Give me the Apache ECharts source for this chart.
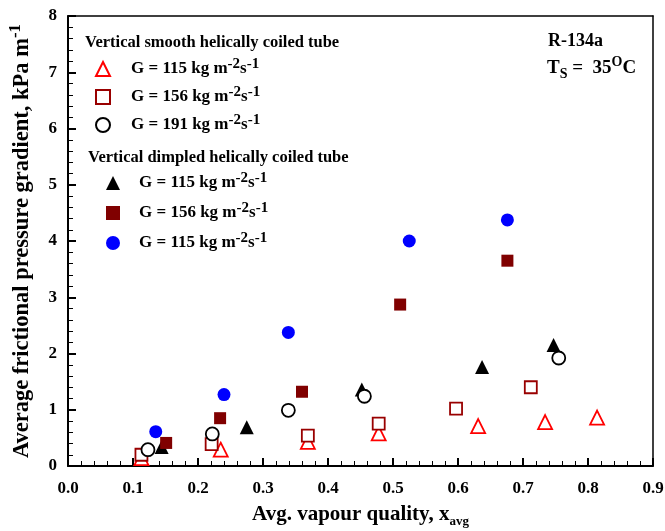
<!DOCTYPE html>
<html>
<head>
<meta charset="utf-8">
<script src="https://cdn.jsdelivr.net/npm/echarts@6/dist/echarts.min.js"></script>
<style>
html,body{margin:0;padding:0;background:#fff;}
#chart{width:665px;height:531px;}
</style>
</head>
<body>
<div id="chart"></div>
<script>
// Data (x = avg vapour quality, y = kPa/m)
const smooth115 = [[0.113,0.14],[0.235,0.29],[0.369,0.43],[0.478,0.58],[0.631,0.71],[0.734,0.78],[0.814,0.86]];
const smooth156 = [[0.113,0.20],[0.221,0.39],[0.369,0.54],[0.478,0.755],[0.597,1.02],[0.712,1.40]];
const smooth191 = [[0.123,0.29],[0.222,0.57],[0.339,0.99],[0.456,1.24],[0.755,1.92]];
const dimpled115 = [[0.144,0.34],[0.275,0.69],[0.452,1.36],[0.637,1.76],[0.747,2.15]];
const dimpled156 = [[0.151,0.41],[0.234,0.85],[0.360,1.32],[0.511,2.87],[0.676,3.65]];
const dimpled115b = [[0.135,0.61],[0.240,1.27],[0.339,2.375],[0.525,4.0],[0.676,4.375]];

const names = {
  s115: 'G = 115 kg m{sup|-2}s{sup|-1}',
  s156: 'G = 156 kg m{sup|-2}s{sup|-1}',
  s191: 'G = 191 kg m{sup|-2}s{sup|-1}',
  d115: 'G = 115 kg m{sup|-2}s{sup|-1} ',
  d156: 'G = 156 kg m{sup|-2}s{sup|-1} ',
  d115b: 'G = 115 kg m{sup|-2}s{sup|-1}  '
};

const FONT = '"Liberation Serif", "Times New Roman", serif';
const legendRich = {
  sup: {fontFamily: FONT, fontWeight: 'bold', fontSize: 15, verticalAlign: 'top', lineHeight: 15, color: '#000'}
};

const chart = echarts.init(document.getElementById('chart'), null, {renderer: 'canvas'});

function sc(name, data, symbol, size, color, border, z) {
  return {
    name: name, type: 'scatter', data: data, symbol: symbol, symbolSize: size, z: z,
    itemStyle: border ? {color: '#fff', borderColor: color, borderWidth: 1.8, opacity: 1}
                      : {color: color, borderWidth: 0, opacity: 1},
    emphasis: {disabled: true}
  };
}

function legendText(pad) {
  return {fontFamily: FONT, fontWeight: 'bold', fontSize: 17, color: '#000', lineHeight: 24,
    padding: [0, 0, 0, pad], rich: legendRich};
}

chart.setOption({
  animation: false,
  backgroundColor: '#fff',
  grid: {left: 68, top: 16, width: 585, height: 450, show: false, containLabel: false, outerBoundsMode: 'none'},
  xAxis: [{
    type: 'value', min: 0, max: 0.9, interval: 0.1, position: 'bottom',
    axisLine: {show: true, onZero: false, lineStyle: {color: '#000', width: 2}},
    axisTick: {show: true, inside: true, length: 8, lineStyle: {color: '#000', width: 2}},
    minorTick: {show: true, splitNumber: 5, length: 5, lineStyle: {color: '#000', width: 1}},
    splitLine: {show: false},
    axisLabel: {margin: 14, fontFamily: FONT, fontWeight: 'bold', fontSize: 17, color: '#000',
      formatter: function (v) { return v.toFixed(1); }},
    name: 'Avg. vapour quality, x{sub|avg}', nameLocation: 'middle', nameGap: 36,
    nameTextStyle: {fontFamily: FONT, fontWeight: 'bold', fontSize: 21, color: '#000', lineHeight: 26,
      rich: {sub: {fontFamily: FONT, fontWeight: 'bold', fontSize: 13, color: '#000', verticalAlign: 'bottom', lineHeight: 13}}}
  }, {
    type: 'value', min: 0, max: 0.9, position: 'top',
    axisLine: {show: true, onZero: false, lineStyle: {color: '#000', width: 1.5}},
    axisTick: {show: false}, axisLabel: {show: false}, splitLine: {show: false}
  }],
  yAxis: [{
    type: 'value', min: 0, max: 8, interval: 1, position: 'left',
    axisLine: {show: true, onZero: false, lineStyle: {color: '#000', width: 2}},
    axisTick: {show: true, inside: true, length: 8, lineStyle: {color: '#000', width: 2}},
    minorTick: {show: true, splitNumber: 5, length: 5, lineStyle: {color: '#000', width: 1}},
    splitLine: {show: false},
    axisLabel: {margin: 11, fontFamily: FONT, fontWeight: 'bold', fontSize: 17, color: '#000'},
    name: 'Average frictional pressure gradient, kPa m{sup|-1}', nameLocation: 'middle', nameGap: 30, nameRotate: 90,
    nameTextStyle: {fontFamily: FONT, fontWeight: 'bold', fontSize: 22.5, color: '#000', lineHeight: 30,
      rich: {sup: {fontFamily: FONT, fontWeight: 'bold', fontSize: 17, color: '#000', verticalAlign: 'top', lineHeight: 15}}}
  }, {
    type: 'value', min: 0, max: 8, position: 'right',
    axisLine: {show: true, onZero: false, lineStyle: {color: '#000', width: 1.5}},
    axisTick: {show: false}, axisLabel: {show: false}, splitLine: {show: false}
  }],
  legend: [
    {orient: 'vertical', selectedMode: false, left: 95, top: 57, padding: 0, itemWidth: 14, itemHeight: 14, itemGap: 4,
      textStyle: legendText(16), formatter: function (n) { return n.trim(); },
      data: [names.s115, names.s156, names.s191]},
    {orient: 'vertical', selectedMode: false, left: 106, top: 171, padding: 0, itemWidth: 14, itemHeight: 14, itemGap: 6,
      textStyle: legendText(14), formatter: function (n) { return n.trim(); },
      data: [names.d115, names.d156, names.d115b]}
  ],
  graphic: [
    {type: 'text', left: 85, top: 34, style: {text: 'Vertical smooth helically coiled tube', font: 'bold 16.5px ' + FONT, fill: '#000'}},
    {type: 'text', left: 88, top: 149, style: {text: 'Vertical dimpled helically coiled tube', font: 'bold 16.5px ' + FONT, fill: '#000'}},
    {type: 'text', left: 548, top: 32, style: {text: 'R-134a', font: 'bold 18px ' + FONT, fill: '#000'}},
    {type: 'text', left: 547, top: 55, style: {
      text: 'T{sub|S} =  35{sup|O}C', font: 'bold 19px ' + FONT, fill: '#000', lineHeight: 26,
      rich: {
        sub: {font: 'bold 14px ' + FONT, fill: '#000', verticalAlign: 'bottom', lineHeight: 14},
        sup: {font: 'bold 14px ' + FONT, fill: '#000', verticalAlign: 'top', lineHeight: 14}
      }}}
  ],
  series: [
    sc(names.d115, dimpled115, 'triangle', 14, '#000', false, 2),
    sc(names.d156, dimpled156, 'rect', 12, '#800000', false, 2),
    sc(names.d115b, dimpled115b, 'circle', 13, '#0000ff', false, 2),
    sc(names.s115, smooth115, 'triangle', 14, '#ff0000', true, 3),
    sc(names.s156, smooth156, 'rect', 12, '#990000', true, 3),
    sc(names.s191, smooth191, 'circle', 13, '#000', true, 3)
  ]
});
</script>
</body>
</html>
